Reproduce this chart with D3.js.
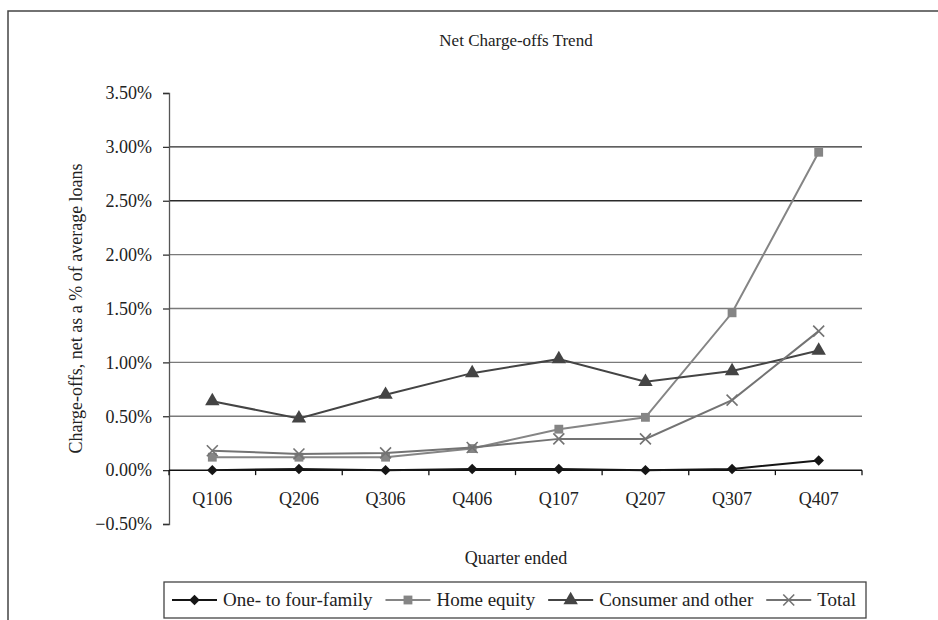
<!DOCTYPE html>
<html>
<head>
<meta charset="utf-8">
<script src="https://cdn.jsdelivr.net/npm/d3@7"></script>
<style>
  body { margin: 0; background: #fff; }
  svg text { font-family: "Liberation Serif", "Times New Roman", serif; fill: #222; }
</style>
</head>
<body>
<div id="chart"></div>
<script>
// Net charge-offs as a fraction of average loans, per quarter
const quarters = ['Q106', 'Q206', 'Q306', 'Q406', 'Q107', 'Q207', 'Q307', 'Q407'];
const oneToFourFamily = [0.0000, 0.0001, 0.0000, 0.0001, 0.0001, 0.0000, 0.0001, 0.0009];
const homeEquity = [0.0012, 0.0012, 0.0012, 0.0020, 0.0038, 0.0049, 0.0146, 0.0295];
const consumerOther = [0.0064, 0.0048, 0.0070, 0.0090, 0.0103, 0.0082, 0.0092, 0.0111];
const totalLoans = [0.0018, 0.0015, 0.0016, 0.0021, 0.0029, 0.0029, 0.0065, 0.0129];
const yTicks = [-0.005, 0, 0.005, 0.01, 0.015, 0.02, 0.025, 0.03, 0.035];

const series = [
  { name: 'One- to four-family', values: oneToFourFamily, color: '#151515', symbol: d3.symbolSquare, size: 55, rotate: 45 },
  { name: 'Home equity', values: homeEquity, color: '#858585', symbol: d3.symbolSquare, size: 78, rotate: 0 },
  { name: 'Consumer and other', values: consumerOther, color: '#444444', symbol: d3.symbolTriangle, size: 90, rotate: 0 },
  { name: 'Total', values: totalLoans, color: '#737373', symbol: d3.symbolX, size: 80, rotate: 0 },
];

const width = 938;
const height = 620;
const plot = { left: 169, right: 862, top: 93, bottom: 524 };

const svg = d3.select('#chart').append('svg')
  .attr('width', width)
  .attr('height', height);

// outer frame (runs off the right and bottom edges)
svg.append('rect')
  .attr('x', 8).attr('y', 11)
  .attr('width', width).attr('height', height)
  .attr('fill', 'none')
  .attr('stroke', '#444')
  .attr('stroke-width', 1.5);

const x = d3.scaleBand().domain(quarters).range([plot.left, plot.right]);
const y = d3.scaleLinear().domain([-0.005, 0.035]).range([plot.bottom, plot.top]);

svg.append('text')
  .attr('x', 516).attr('y', 46)
  .attr('text-anchor', 'middle')
  .style('font-size', '17px')
  .text('Net Charge-offs Trend');

// gridlines
svg.append('g')
  .selectAll('line')
  .data(yTicks.filter(d => d > 0 && d < 0.035))
  .join('line')
  .attr('x1', plot.left).attr('x2', plot.right)
  .attr('y1', d => y(d)).attr('y2', d => y(d))
  .attr('stroke', d => (d >= 0.025 ? '#2a2a2a' : '#7a7a7a'))
  .attr('stroke-width', 1.3);

// y axis
const yAxis = svg.append('g')
  .attr('transform', `translate(${plot.left},0)`)
  .call(d3.axisLeft(y).tickValues(yTicks).tickFormat(d3.format('.2%')).tickSize(6).tickPadding(11));
yAxis.select('.domain').attr('stroke', '#555').attr('stroke-width', 1.3);
yAxis.selectAll('.tick line').attr('stroke', '#333').attr('stroke-width', 1.3);
yAxis.selectAll('.tick text')
  .attr('fill', '#222')
  .style('font-size', '18px')
  .style('font-family', '"Liberation Serif", serif');

// x axis line at zero, with ticks on band edges
svg.append('line')
  .attr('x1', plot.left).attr('x2', plot.right)
  .attr('y1', y(0)).attr('y2', y(0))
  .attr('stroke', '#111').attr('stroke-width', 1.5);

const edges = quarters.map(q => x(q)).concat([x.range()[1]]);
svg.append('g')
  .selectAll('line')
  .data(edges)
  .join('line')
  .attr('x1', d => d).attr('x2', d => d)
  .attr('y1', y(0)).attr('y2', y(0) + 5)
  .attr('stroke', '#111').attr('stroke-width', 1.3);

svg.append('g')
  .selectAll('text')
  .data(quarters)
  .join('text')
  .attr('x', d => x(d) + x.bandwidth() / 2)
  .attr('y', 505)
  .attr('text-anchor', 'middle')
  .style('font-size', '18px')
  .text(d => d);

svg.append('text')
  .attr('x', 516).attr('y', 564)
  .attr('text-anchor', 'middle')
  .style('font-size', '18px')
  .text('Quarter ended');

svg.append('text')
  .attr('transform', `translate(82,${(plot.top + plot.bottom) / 2}) rotate(-90)`)
  .attr('text-anchor', 'middle')
  .style('font-size', '18px')
  .text('Charge-offs, net as a % of average loans');

// series
const line = d3.line()
  .x((d, i) => x(quarters[i]) + x.bandwidth() / 2)
  .y(d => y(d));

function drawMarker(sel, s) {
  sel.attr('d', d3.symbol().type(s.symbol).size(s.size)())
    .attr('fill', s.symbol === d3.symbolX ? 'none' : s.color)
    .attr('stroke', s.color)
    .attr('stroke-width', s.symbol === d3.symbolX ? 1.6 : 0);
}

series.forEach(s => {
  const g = svg.append('g');
  g.append('path')
    .datum(s.values)
    .attr('d', line)
    .attr('fill', 'none')
    .attr('stroke', s.color)
    .attr('stroke-width', 2);
  g.selectAll('path.mark')
    .data(s.values)
    .join('path')
    .attr('class', 'mark')
    .attr('transform', (d, i) => `translate(${x(quarters[i]) + x.bandwidth() / 2},${y(d)}) rotate(${s.rotate})`)
    .call(drawMarker, s);
});

// legend
const legend = svg.append('g');
legend.append('rect')
  .attr('x', 164).attr('y', 582)
  .attr('width', 702).attr('height', 36)
  .attr('fill', '#fff')
  .attr('stroke', '#444')
  .attr('stroke-width', 1.3);

let lx = 172;
series.forEach(s => {
  const cy = 600;
  legend.append('line')
    .attr('x1', lx).attr('x2', lx + 45)
    .attr('y1', cy).attr('y2', cy)
    .attr('stroke', s.color).attr('stroke-width', 2);
  legend.append('path')
    .attr('transform', `translate(${lx + 22.5},${cy}) rotate(${s.rotate})`)
    .call(drawMarker, s);
  const t = legend.append('text')
    .attr('x', lx + 51).attr('y', cy)
    .attr('dy', '0.33em')
    .style('font-size', '19px')
    .text(s.name);
  lx += 51 + t.node().getComputedTextLength() + 13;
});
</script>
</body>
</html>
